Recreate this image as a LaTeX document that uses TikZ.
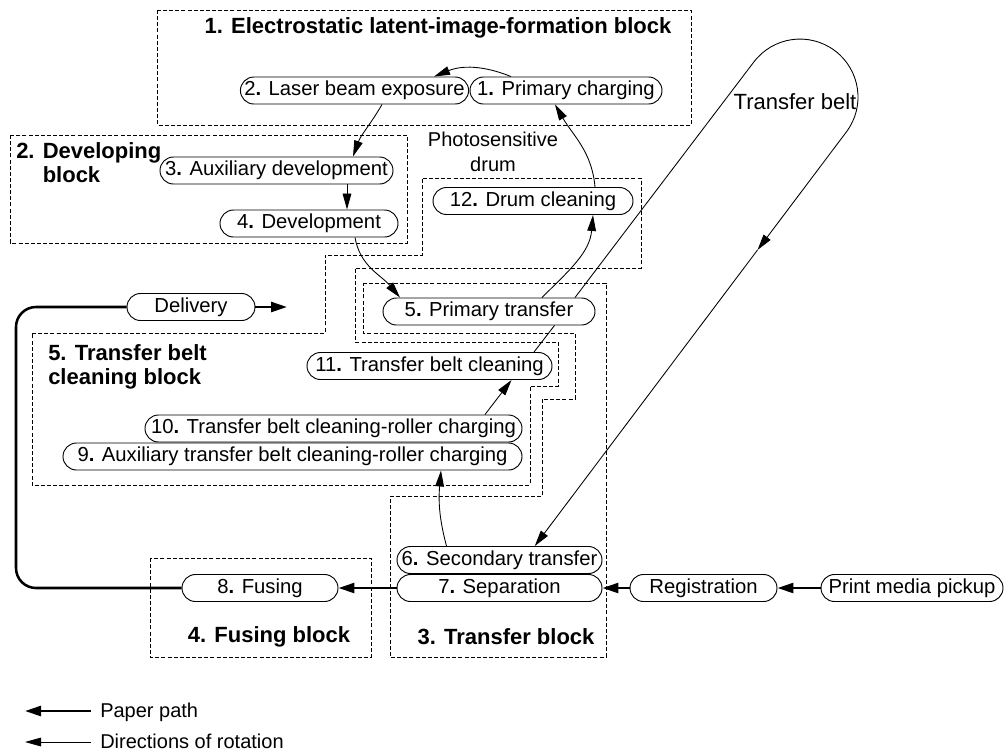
\documentclass[tikz,border=0pt]{standalone}
\usepackage{fontspec}
\setmainfont{Liberation Sans}
\usetikzlibrary{shapes.misc,arrows.meta,calc}
\begin{document}
\begin{tikzpicture}[x=0.75pt,y=0.75pt,
  proc/.style={draw, line width=0.7pt, rounded rectangle, fill=white, minimum height=20.25pt, inner sep=0pt, font=\fontsize{15.2}{16}\selectfont},
  blk/.style={draw, line width=0.55pt, dash pattern=on 3pt off 1.6pt},
  ttl/.style={font=\bfseries\fontsize{16.5}{18}\selectfont, inner sep=0pt},
  lbl/.style={font=\fontsize{15}{18.5}\selectfont, inner sep=0pt},
  rot/.style={line width=0.65pt, -{Triangle[length=12pt,width=6.5pt]}},
  beltline/.style={line width=0.65pt},
  paper/.style={line width=1.9pt, -{Triangle[length=12pt,width=7.5pt]}},
  paperline/.style={line width=1.9pt},
]
\useasboundingbox (0,0) rectangle (1005,-754);

% dashed blocks
\draw[blk] (157,-10) rectangle (691,-125);
\draw[blk] (10,-135) rectangle (407,-243);
\draw[blk] (32,-333) -- (325,-333) -- (325,-255) -- (422,-255) -- (422,-178) -- (641,-178) -- (641,-268) -- (355,-268) -- (355,-342) -- (558,-342) -- (558,-386) -- (530,-386) -- (530,-485) -- (32,-485) -- cycle;
\draw[blk] (363,-283) -- (606,-283) -- (606,-657) -- (390,-657) -- (390,-496) -- (542,-496) -- (542,-399) -- (575,-399) -- (575,-333) -- (363,-333) -- cycle;
\draw[blk] (150,-558) rectangle (371,-657);

% titles
\node[ttl] (t1) at (438,-28) {1. Electrostatic latent-image-formation block};
\node[ttl, anchor=north west, align=left] (t2) at (16,-142) {2. Developing\\\phantom{2. }block};
\node[ttl, anchor=north west, align=left] (t5) at (48,-344) {5. Transfer belt\\cleaning block};
\node[ttl] (t4) at (269,-637) {4. Fusing block};
\node[ttl] (t3) at (506,-637) {3. Transfer block};
\node[lbl, align=center] (drum) at (493,-152) {Photosensitive\\drum};
\node[font=\fontsize{16.5}{18}\selectfont, inner sep=0pt] (beltlbl) at (795,-102) {Transfer belt};

% process nodes
\node[proc, minimum width=168.75pt] (laser) at (354.5,-90.5) {2\textbf{.} Laser beam exposure};
\node[proc, minimum width=144pt] (pc) at (566,-90.5) {1\textbf{.} Primary charging};
\node[proc, minimum width=174.75pt] (ad) at (276.5,-170.5) {3\textbf{.} Auxiliary development};
\node[proc, minimum width=133.5pt] (dev) at (309,-223.5) {4\textbf{.} Development};
\node[proc, minimum width=150pt] (dc) at (533,-201) {12\textbf{.} Drum cleaning};
\node[proc, minimum width=159pt] (pt) at (489,-311.5) {5\textbf{.} Primary transfer};
\node[proc, minimum width=96pt] (del) at (191,-307) {Delivery};
\node[proc, minimum width=183.75pt] (tbc) at (429.5,-366) {11\textbf{.} Transfer belt cleaning};
\node[proc, minimum width=282.75pt] (n10) at (333.5,-428.5) {10\textbf{.} Transfer belt cleaning-roller charging};
\node[proc, minimum width=344.25pt] (n9) at (292.5,-456.5) {9\textbf{.} Auxiliary transfer belt cleaning-roller charging};
\node[proc, minimum width=153.75pt] (st) at (499.5,-560) {6\textbf{.} Secondary transfer};
\node[proc, minimum width=153.75pt] (sep) at (499.5,-588) {7\textbf{.} Separation};
\node[proc, minimum width=117pt] (fus) at (260,-588) {8\textbf{.} Fusing};
\node[proc, minimum width=110.25pt] (reg) at (703.5,-588) {Registration};
\node[proc, minimum width=136.5pt] (pmp) at (912,-588) {Print media pickup};

% directions of rotation
\draw[rot] ($(pc.north)+(-55,0)$) to[bend right=22] ($(laser.north)+(79.5,0)$);
\draw[rot] ($(laser.south)+(27.5,0)$) to[out=-120,in=70] ($(ad.north)+(76.5,0)$);
\draw[rot] ($(ad.south)+(70.5,0)$) -- ($(dev.north)+(38,0)$);
\draw[rot] ($(dev.south)+(46,0)$) to[out=-80,in=130] ($(pt.north)+(-89,0)$);
\draw[rot] ($(pt.north)+(53,0)$) to[out=45,in=-95] ($(dc.south)+(60,0)$);
\draw[rot] ($(dc.north)+(62,0)$) to[out=95,in=-60] ($(pc.south)+(-11,0)$);
\draw[rot] ($(n10.north)+(151.5,0)$) -- ($(tbc.south)+(82,0)$);
\draw[rot] ($(st.north)+(-53,0)$) to[out=105,in=-95] ($(n9.south)+(148.5,0)$);

% transfer belt
\coordinate (bA) at (753.5,-62.4);
\coordinate (bM) at (757.5,-250);
\draw[beltline] ($(tbc.north)+(104.5,0)$) -- ($(pt.south)+(65.5,0)$);
\draw[rot] ($(pt.north)+(86,0)$) -- (bA) arc[start angle=143.3, end angle=-36.7, radius=58] -- (bM);
\draw[rot] (bM) -- ($(st.north)+(35.25,0)$);

% paper path
\coordinate (lc) at (16,-450);
\coordinate (dout) at (287,-307);
\draw[paper] (pmp.west) -- (reg.east);
\draw[paper] (reg.west) -- (sep.east);
\draw[paper] (sep.west) -- (fus.east);
\draw[paperline, rounded corners=15pt] (fus.west) -| (lc) |- (del.west);
\draw[paper] (del.east) -- (dout);

% legend
\coordinate (l1a) at (91,-711);
\coordinate (l1b) at (25,-711);
\coordinate (l2a) at (91,-742);
\coordinate (l2b) at (25,-742);
\draw[paper] (l1a) -- (l1b);
\draw[rot] (l2a) -- (l2b);
\node[lbl, anchor=base west] (lg1) at (100,-717) {Paper path};
\node[lbl, anchor=base west] (lg2) at (100,-748) {Directions of rotation};
\end{tikzpicture}
\end{document}
